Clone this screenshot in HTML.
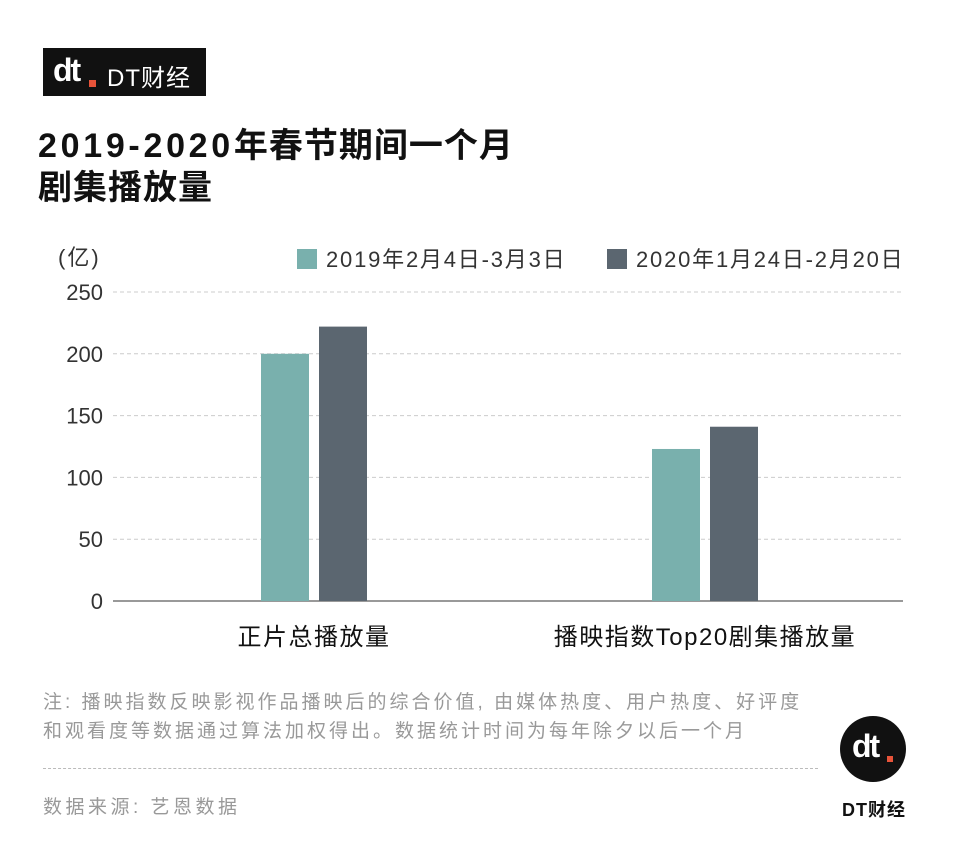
<!DOCTYPE html>
<html><head><meta charset="utf-8"><style>
body{margin:0;width:960px;height:842px;background:#fff;position:relative;overflow:hidden;font-family:"Liberation Sans","Noto Sans CJK SC",sans-serif;}
.abs{position:absolute;}
</style></head><body>
<div class="abs" style="left:43px;top:48px;width:163px;height:48px;background:#111;color:#fff;">
 <span class="abs" style="left:10px;top:4px;font-size:32px;font-weight:bold;letter-spacing:-2px;">dt</span>
 <span class="abs" style="left:46px;top:32px;width:7px;height:7px;background:#e8543a;"></span>
 <span class="abs" style="left:64px;top:10px;font-size:24px;letter-spacing:1px;">DT财经</span>
</div>
<div class="abs" style="left:38px;top:125px;font-size:34px;font-weight:bold;line-height:42px;color:#111;letter-spacing:1px;"><span style="letter-spacing:3.7px">2019-2020</span>年春节期间一个月<br>剧集播放量</div>
<svg class="abs" style="left:0;top:0" width="960" height="842" id="chart"></svg>
<div class="abs" style="left:43px;top:688px;font-size:19px;line-height:29px;color:#999;letter-spacing:3px;">注: 播映指数反映影视作品播映后的综合价值, 由媒体热度、用户热度、好评度<br>和观看度等数据通过算法加权得出。数据统计时间为每年除夕以后一个月</div>
<div class="abs" style="left:43px;top:768px;width:775px;border-top:1px dashed #bbb;"></div>
<div class="abs" style="left:43px;top:792px;font-size:19px;color:#999;letter-spacing:3.5px;">数据来源: 艺恩数据</div>
<div class="abs" style="left:840px;top:716px;width:66px;height:66px;border-radius:50%;background:#111;color:#fff;">
 <span class="abs" style="left:12px;top:12px;font-size:32px;font-weight:bold;letter-spacing:-2px;">dt</span>
 <span class="abs" style="left:47px;top:40px;width:6px;height:6px;background:#e8543a;"></span>
</div>
<div class="abs" style="left:842px;top:796px;font-size:18px;font-weight:bold;color:#111;letter-spacing:1px;">DT财经</div>
<script>
const categories=["正片总播放量","播映指数Top20剧集播放量"];
const series2019=[200,123];
const series2020=[222,141];
const ticks=[0,50,100,150,200,250];
const seriesNames=["2019年2月4日-3月3日","2020年1月24日-2月20日"];
const colors=["#79b0ad","#5b6670"];
const svg=document.getElementById('chart');
const NS="http://www.w3.org/2000/svg";
const FF='Liberation Sans, Noto Sans CJK SC, sans-serif';
const y=v=>601-v*(601-292)/250;
const groupCenter=i=>314+i*391;
function mk(t,a,txt){const e=document.createElementNS(NS,t);for(const k in a)e.setAttribute(k,a[k]);if(txt!=null)e.textContent=txt;svg.appendChild(e);return e;}
ticks.forEach(t=>{
 const l=mk('line',{x1:113,x2:903,y1:y(t),y2:y(t),stroke:t===0?'#333':'#ccc','stroke-dasharray':t===0?'':'4,3','stroke-width':1});
 
 
 const tx=mk('text',{x:103,y:y(t)+8,'text-anchor':'end','font-size':22,fill:'#333','font-family':FF},t);
 
 
});
const unit=mk('text',{x:58,y:265,'font-size':22,fill:'#333','font-family':FF,'letter-spacing':2},'(亿)');


categories.forEach((c,i)=>{
 [series2019,series2020].forEach((s,j)=>{
  const x=groupCenter(i)-53+j*58;
  const r=mk('rect',{x:x,y:y(s[i]),width:48,height:601-y(s[i]),fill:colors[j]});
  
  
 });
 const t=mk('text',{x:groupCenter(i),y:645,'text-anchor':'middle','font-size':24,fill:'#111','font-family':FF,'letter-spacing':1.5},c);
 
 
});
const lx=[297,607];
seriesNames.forEach((n,j)=>{
 const r=mk('rect',{x:lx[j],y:249,width:20,height:20,fill:colors[j]});
 
 
 const t=mk('text',{x:lx[j]+29,y:267,'font-size':22,fill:'#333','font-family':FF,'letter-spacing':1.8},n);
 
 
});
</script>
</body></html>
